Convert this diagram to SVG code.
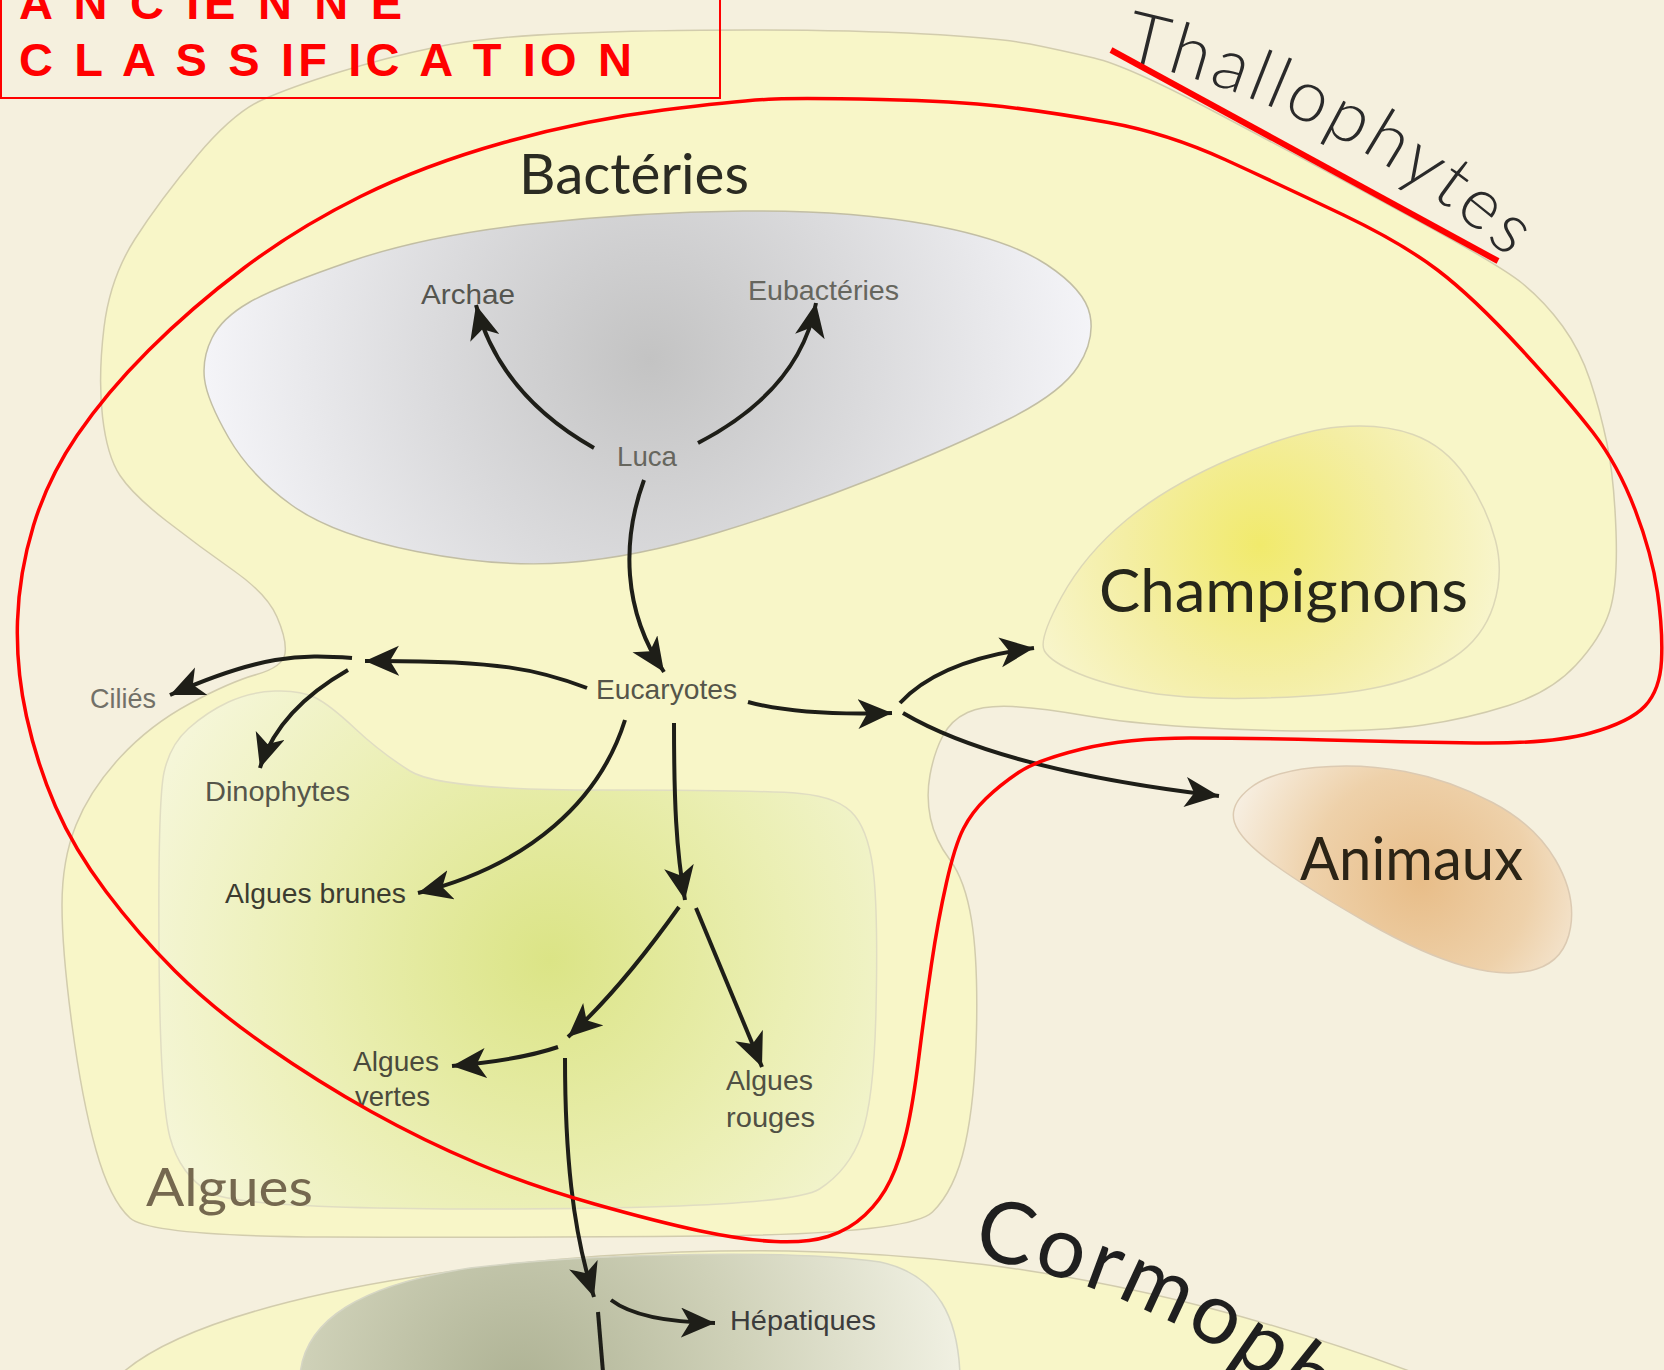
<svg xmlns="http://www.w3.org/2000/svg" width="1664" height="1370" viewBox="0 0 1664 1370">
<defs>
<style>
.region{fill:#f8f6c8;stroke:#d2ccad;stroke-width:1.5}
.s{font-family:"Liberation Sans",Arial,sans-serif;font-size:28px;fill:#55554a}
.big{font-family:Lato,"Liberation Sans",Arial,sans-serif;font-weight:400}
.thin{font-family:Lato,"Liberation Sans",Arial,sans-serif;font-weight:300}
.arr{fill:none;stroke:#1e1e18;stroke-width:4;marker-end:url(#ah)}
.red{fill:none;stroke:#ff0000}
.title{font-family:"Liberation Sans Narrow","Liberation Sans",Arial,sans-serif;font-weight:bold;font-size:47px;fill:#ff0000}
</style>
<marker id="ah" markerUnits="userSpaceOnUse" markerWidth="36" markerHeight="32" refX="34" refY="15" orient="auto" viewBox="0 0 36 32">
<path d="M0,0 L34,15 L0,30 L9,15 Z" fill="#1e1e18"/>
</marker>
<radialGradient id="gBact" gradientUnits="userSpaceOnUse" cx="650" cy="360" r="470">
<stop offset="0" stop-color="#c3c3c3"/>
<stop offset="0.45" stop-color="#dadadc"/>
<stop offset="1" stop-color="#f7f7fb"/>
</radialGradient>
<radialGradient id="gChamp" gradientUnits="userSpaceOnUse" cx="1260" cy="545" r="270">
<stop offset="0" stop-color="#f1ea6c"/>
<stop offset="0.5" stop-color="#f4eea4"/>
<stop offset="1" stop-color="#f9f7d6"/>
</radialGradient>
<radialGradient id="gAnim" gradientUnits="userSpaceOnUse" cx="1420" cy="880" r="200">
<stop offset="0" stop-color="#e8bd88"/>
<stop offset="0.55" stop-color="#eed1aa"/>
<stop offset="1" stop-color="#f7efe2"/>
</radialGradient>
<radialGradient id="gAlg" gradientUnits="userSpaceOnUse" cx="550" cy="960" r="480">
<stop offset="0" stop-color="#dbe486"/>
<stop offset="0.5" stop-color="#ebefb4"/>
<stop offset="1" stop-color="#f8f8e2"/>
</radialGradient>
<radialGradient id="gHep" gradientUnits="userSpaceOnUse" cx="520" cy="1390" r="440">
<stop offset="0" stop-color="#aeb294"/>
<stop offset="0.5" stop-color="#cfd1b8"/>
<stop offset="1" stop-color="#f0f0e2"/>
</radialGradient>
<path id="thalPath" d="M 1122 60 A 831 831 0 0 1 1505 255 A 831 831 0 0 1 1560 300"/>
<path id="cormPath" d="M 972 1257 A 700 700 0 0 1 1389 1494"/>
</defs>

<rect x="0" y="0" width="1664" height="1370" fill="#f5f0de"/>

<g id="thallophytes">
<path class="region" d="M 750 30 Q 850 30 925 34 Q 1000 38 1030 44 Q 1060 50 1094 58 Q 1128 66 1214 111.5 Q 1300 157 1400 211 Q 1500 265 1522.5 283.5 Q 1545 302 1562.5 326 Q 1580 350 1590 380 Q 1600 410 1607 443.5 Q 1614 477 1616 531 Q 1618 585 1609.5 611.5 Q 1601 638 1576 665 Q 1551 692 1508.5 705.5 Q 1466 719 1423.5 725 Q 1381 731 1317.5 731 Q 1254 731 1190.5 727 Q 1127 723 1084.5 715.5 Q 1042 708 1013 706.5 Q 984 705 967.5 712.5 Q 951 720 942.5 736.5 Q 934 753 930 775 Q 926 797 930.5 818.5 Q 935 840 950 860 Q 965 880 971.5 920 Q 978 960 976.5 1030 Q 975 1100 965 1145 Q 955 1190 932.5 1212 Q 910 1234 705 1236 Q 500 1238 325 1237 Q 150 1236 130 1218 Q 110 1200 96 1150 Q 82 1100 72 1025 Q 62 950 62 905 Q 62 860 76 825 Q 90 790 120 757.5 Q 150 725 190 703.5 Q 230 682 256.5 674.5 Q 283 667 285 653.5 Q 287 640 277 617 Q 267 594 233.5 570.5 Q 200 547 166.5 521 Q 133 495 120 475.5 Q 107 456 102.5 416.5 Q 98 377 104 327.5 Q 110 278 135 239 Q 160 200 196.5 156.5 Q 233 113 262 100 Q 291 87 339.5 72 Q 388 57 436.5 47 Q 485 37 567.5 33.5 Q 650 30 750 30 Z"/>
<text class="thin" font-size="72" letter-spacing="4" fill="#2a2a2a"><textPath href="#thalPath">Thallophytes</textPath></text>
</g>

<g id="cormophytes">
<path class="region" d="M 120 1375 C 180 1320 350 1275 600 1256 C 850 1240 1100 1255 1420 1375 Z"/>
<text class="big" font-size="86" letter-spacing="4" fill="#1f1f1f"><textPath href="#cormPath">Cormophytes</textPath></text>
</g>

<g id="bacteries">
<path d="M 204.5 379 Q 202 358 212 338 Q 222 318 249 302.5 Q 276 287 350 261.5 Q 424 236 530.5 224 Q 637 212 743 211 Q 849 210 928.5 224.5 Q 1008 239 1046.5 264.5 Q 1085 290 1090 315 Q 1095 340 1078 366.5 Q 1061 393 1008 419.5 Q 955 446 875.5 477.5 Q 796 509 716.5 533 Q 637 557 568.5 562.5 Q 500 568 416.5 551.5 Q 333 535 291.5 505 Q 250 475 228.5 437.5 Q 207 400 204.5 379 Z" fill="url(#gBact)" stroke="#c2bea4" stroke-width="1.5"/>
<text class="big" x="519" y="194" font-size="57" textLength="230" lengthAdjust="spacingAndGlyphs" fill="#2b2b22">Bactéries</text>
</g>

<g id="champignons">
<path d="M 1044.5 651 Q 1038 640 1061.5 597 Q 1085 554 1127 519.5 Q 1169 485 1232.5 458 Q 1296 431 1338.5 427 Q 1381 423 1413 434.5 Q 1445 446 1466 477 Q 1487 508 1495.5 540.5 Q 1504 573 1493.5 605.5 Q 1483 638 1453.5 657.5 Q 1424 677 1381.5 686.5 Q 1339 696 1265 698 Q 1191 700 1148.5 692.5 Q 1106 685 1078.5 673.5 Q 1051 662 1044.5 651 Z" fill="url(#gChamp)" stroke="#dcd7b6" stroke-width="1.5"/>
<text class="big" x="1099" y="612" font-size="60" textLength="369" lengthAdjust="spacingAndGlyphs" fill="#26261a">Champignons</text>
</g>

<g id="animaux">
<path d="M 1234.5 822.5 Q 1229 805 1249.5 788.5 Q 1270 772 1315 767.5 Q 1360 763 1405 771.5 Q 1450 780 1492.5 802.5 Q 1535 825 1555.5 860 Q 1576 895 1570.5 927.5 Q 1565 960 1536.5 969 Q 1508 978 1466 966.5 Q 1424 955 1367 922.5 Q 1310 890 1275 865 Q 1240 840 1234.5 822.5 Z" fill="url(#gAnim)" stroke="#dccab2" stroke-width="1.5"/>
<text class="big" x="1300" y="880" font-size="60" textLength="223" lengthAdjust="spacingAndGlyphs" fill="#2b2416">Animaux</text>
</g>

<g id="algues">
<path d="M 188.5 728.5 Q 207 712 228.5 702 Q 250 692 275 691 Q 300 690 315 697.5 Q 330 705 355 728.5 Q 380 752 410 771 Q 440 790 600 790 Q 760 790 800 793.5 Q 840 797 855 816 Q 870 835 874 877.5 Q 878 920 876 1010 Q 874 1100 861.5 1135 Q 849 1170 819.5 1189 Q 790 1208 515 1209 Q 240 1210 210 1192.5 Q 180 1175 170 1137.5 Q 160 1100 159 950 Q 158 800 164 772.5 Q 170 745 188.5 728.5 Z" fill="url(#gAlg)" stroke="#e0ddc2" stroke-width="1.5"/>
<text class="big" x="146" y="1206" font-size="53" textLength="167" lengthAdjust="spacingAndGlyphs" fill="#75684f">Algues</text>
</g>

<g id="hepatiques-zone">
<path d="M 300 1375 C 305 1320 360 1285 470 1268 C 600 1252 800 1250 880 1262 C 940 1275 958 1320 960 1375 Z" fill="url(#gHep)" stroke="#d6d6c4" stroke-width="1.5"/>
</g>

<g id="connectors">
<path class="arr" d="M 594 448 Q 500 395 476 305"/>
<path class="arr" d="M 698 443 Q 800 390 816 303"/>
<path class="arr" d="M 644 480 C 622 540 622 610 664 672"/>
<path class="arr" d="M 587 688 C 540 670 500 660 365 661"/>
<path class="arr" d="M 352 658 C 300 654 260 655 170 695"/>
<path class="arr" d="M 348 670 Q 278 710 260 768"/>
<path class="arr" d="M 625 720 C 600 800 530 865 418 893"/>
<path class="arr" d="M 674 723 C 674 800 676 850 685 900"/>
<path class="arr" d="M 679 907 Q 620 990 568 1037"/>
<path class="arr" d="M 696 908 Q 728 985 762 1067"/>
<path class="arr" d="M 558 1047 Q 520 1060 452 1066"/>
<path class="arr" d="M 565 1058 C 565 1150 572 1230 594 1297"/>
<path class="arr" d="M 611 1300 Q 640 1322 715 1323"/>
<path d="M 598 1312 L 603 1372" fill="none" stroke="#1e1e18" stroke-width="4"/>
<path class="arr" d="M 748 702 Q 800 716 892 713"/>
<path class="arr" d="M 900 703 Q 940 660 1034 648"/>
<path class="arr" d="M 903 713 Q 1000 770 1219 796"/>
</g>

<g id="archae"><text class="s" x="421" y="304" textLength="94" lengthAdjust="spacingAndGlyphs" style="fill:#55554f">Archae</text></g>
<g id="eubacteries"><text class="s" x="748" y="300" textLength="151" lengthAdjust="spacingAndGlyphs" style="fill:#66665e">Eubactéries</text></g>
<g id="luca"><text class="s" x="617" y="466" textLength="60" lengthAdjust="spacingAndGlyphs" style="fill:#66665e">Luca</text></g>
<g id="eucaryotes"><text class="s" x="596" y="699" textLength="141" lengthAdjust="spacingAndGlyphs">Eucaryotes</text></g>
<g id="cilies"><text class="s" x="90" y="708" textLength="66" lengthAdjust="spacingAndGlyphs" style="fill:#727068">Ciliés</text></g>
<g id="dinophytes"><text class="s" x="205" y="801" textLength="145" lengthAdjust="spacingAndGlyphs">Dinophytes</text></g>
<g id="algues-brunes"><text class="s" x="225" y="903" textLength="181" lengthAdjust="spacingAndGlyphs" style="fill:#3c3c30">Algues brunes</text></g>
<g id="algues-vertes"><text class="s" x="353" y="1071" textLength="86" lengthAdjust="spacingAndGlyphs" style="fill:#4a4a3c">Algues</text><text class="s" x="355" y="1106" textLength="75" lengthAdjust="spacingAndGlyphs" style="fill:#4a4a3c">vertes</text></g>
<g id="algues-rouges"><text class="s" x="726" y="1090" textLength="87" lengthAdjust="spacingAndGlyphs" style="fill:#505044">Algues</text><text class="s" x="726" y="1127" textLength="89" lengthAdjust="spacingAndGlyphs" style="fill:#505044">rouges</text></g>
<g id="hepatiques"><text class="s" x="730" y="1330" textLength="146" lengthAdjust="spacingAndGlyphs" style="fill:#3c3c3c">Hépatiques</text></g>

<g id="annotations">
<path class="red" stroke-width="3.5" d="M 775 99 Q 807 98 881 99.5 Q 955 101 1002.5 106.5 Q 1050 112 1108.5 122.5 Q 1167 133 1226 160 Q 1285 187 1343.5 215 Q 1402 243 1437.5 270 Q 1473 297 1520.5 348.5 Q 1568 400 1593 432.5 Q 1618 465 1635 509.5 Q 1652 554 1657.5 592.5 Q 1663 631 1661.5 660.5 Q 1660 690 1645 706 Q 1630 722 1590.5 733 Q 1551 744 1475.5 743 Q 1400 742 1327 740 Q 1254 738 1190.5 738 Q 1127 738 1082 749 Q 1037 760 1018.5 772.5 Q 1000 785 986 798.5 Q 972 812 963.5 828.5 Q 955 845 946.5 882.5 Q 938 920 931.5 964 Q 925 1008 919 1056 Q 913 1104 906.5 1132 Q 900 1160 890.5 1180 Q 881 1200 865 1215 Q 849 1230 828 1236.5 Q 807 1243 775 1241.5 Q 743 1240 700.5 1231 Q 658 1222 594.5 1204 Q 531 1186 477.5 1163.5 Q 424 1141 371 1111.5 Q 318 1082 265 1045 Q 212 1008 175 971 Q 138 934 106 891.5 Q 74 849 55.5 806.5 Q 37 764 26.5 716.5 Q 16 669 17.5 621 Q 19 573 33.5 525.5 Q 48 478 77 435.5 Q 106 393 148.5 350.5 Q 191 308 244 268 Q 297 228 360.5 196.5 Q 424 165 504 142.5 Q 584 120 663.5 110 Q 743 100 775 99 Z"/>
<line class="red" x1="1111" y1="50" x2="1498" y2="261" stroke-width="6"/>
<rect class="red" x="1" y="-10" width="719" height="108" stroke-width="2"/>
<text class="title" x="19" y="19" textLength="383" lengthAdjust="spacing">A N C IE N N E</text>
<text class="title" x="19" y="76" textLength="613" lengthAdjust="spacing">C L A S S IF IC A T IO N</text>
</g>
</svg>
